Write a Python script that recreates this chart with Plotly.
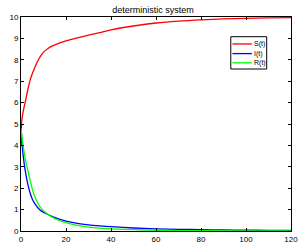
import plotly.graph_objects as go

# time samples
t_S = [0, 0.25, 0.5, 1, 1.5, 2, 3, 4, 5, 6, 7, 8, 9, 10, 12, 14, 17, 20, 25, 30, 35, 40,
       50, 60, 70, 80, 90, 100, 110, 120]
S_vals = [4.0, 5.0, 5.3, 5.6, 5.85, 6.08, 6.6, 7.03, 7.35, 7.6, 7.85, 8.06, 8.22, 8.36, 8.53, 8.65,
          8.78, 8.88, 9.02, 9.15, 9.27, 9.4, 9.58, 9.72, 9.81, 9.87, 9.91, 9.94, 9.96, 9.97]

t_IR = [0, 0.5, 1, 1.5, 2, 3, 4, 5, 6, 7, 8, 9, 10, 12, 14, 17, 20, 25, 30, 35, 40,
        50, 60, 70, 80, 90, 100, 110, 120]
I_vals = [4.95, 4.0, 3.5, 3.08, 2.75, 2.2, 1.8, 1.5, 1.3, 1.15, 1.03, 0.94, 0.87, 0.77, 0.67,
          0.55, 0.46, 0.36, 0.29, 0.24, 0.2, 0.14, 0.1, 0.08, 0.06, 0.05, 0.04, 0.03, 0.025]
R_vals = [4.82, 4.3, 3.95, 3.6, 3.3, 2.85, 2.4, 1.97, 1.65, 1.4, 1.2, 1.06, 0.95, 0.77, 0.64,
          0.5, 0.39, 0.26, 0.18, 0.13, 0.1, 0.06, 0.035, 0.02, 0.015, 0.01, 0.007, 0.005, 0.004]

series_names = ["S(t)", "I(t)", "R(t)"]
series_colors = ["#ff0000", "#0000ff", "#00ff00"]
x_ticks = [0, 20, 40, 60, 80, 100, 120]
y_ticks = list(range(0, 11))

fig = go.Figure()
for name, tt, vals, col in zip(series_names, [t_S, t_IR, t_IR], [S_vals, I_vals, R_vals], series_colors):
    fig.add_trace(go.Scatter(x=tt, y=vals, mode="lines", name=name,
                             line=dict(color=col, width=1.3, shape="spline", smoothing=0.8),
                             showlegend=False))

axis_common = dict(showgrid=False, zeroline=False, showline=True, linecolor="black", linewidth=1,
                   mirror="ticks", ticks="inside", ticklen=3, tickcolor="black", automargin=False,
                   tickfont=dict(family="Liberation Sans, Arial", size=8, color="black"))

fig.update_layout(
    width=306, height=252,
    margin=dict(l=21, r=15, t=17, b=21),
    paper_bgcolor="white", plot_bgcolor="white",
    title=dict(text="deterministic system", x=0.5, xanchor="center", y=0.96, yanchor="middle",
               font=dict(family="Liberation Sans, Arial", size=9, color="black")),
    xaxis=dict(range=[0, 120], tickvals=x_ticks, **axis_common),
    yaxis=dict(range=[0, 10], tickvals=y_ticks, **axis_common),
)

# manual legend (MATLAB style box)
bx0, bx1, by0, by1 = 0.777, 0.91, 0.757, 0.908
fig.add_shape(type="rect", xref="paper", yref="paper", x0=bx0, x1=bx1, y0=by0, y1=by1,
              line=dict(color="black", width=1), fillcolor="white")
rows_y = [0.874, 0.829, 0.786]
for name, col, ry in zip(series_names, series_colors, rows_y):
    fig.add_shape(type="line", xref="paper", yref="paper", x0=0.783, x1=0.855, y0=ry, y1=ry,
                  line=dict(color=col, width=1.3))
    fig.add_annotation(xref="paper", yref="paper", x=0.857, y=ry, text=name, showarrow=False,
                       xanchor="left", yanchor="middle",
                       font=dict(family="Liberation Sans, Arial", size=7, color="black"))

fig.write_html("out.html", config={"displayModeBar": False})

# remove the default page margin so the figure sits at the window's corner
with open("out.html", "r", encoding="utf-8") as f:
    html = f.read()
html = html.replace("<head>", "<head><style>html,body{margin:0;padding:0;overflow:hidden;}</style>", 1)
with open("out.html", "w", encoding="utf-8") as f:
    f.write(html)
